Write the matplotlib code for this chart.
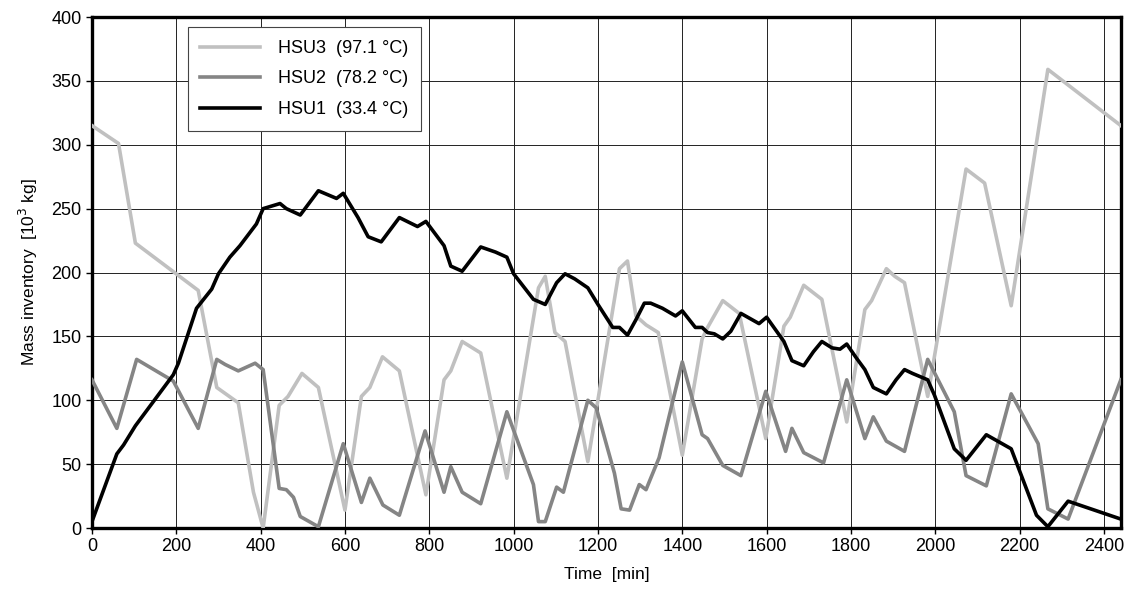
import numpy as np
import matplotlib
matplotlib.use('Agg')
import matplotlib.pyplot as plt

plt.rcParams['font.family'] = ['Liberation Sans', 'DejaVu Sans']

# HSU3 (97.1 °C) - light gray
t_hsu3 = [0, 63, 103, 252, 296, 347, 383, 406, 444, 465, 498, 537, 600, 639, 659,
          689, 729, 792, 835, 851, 878, 922, 984, 1059, 1075, 1098, 1122, 1176,
          1251, 1270, 1290, 1314, 1343, 1400, 1447, 1460, 1496, 1535, 1598, 1641,
          1656, 1688, 1731, 1790, 1833, 1849, 1884, 1904, 1927, 1982, 2073, 2117,
          2180, 2267, 2440]
m_hsu3 = [315, 301, 223, 186, 110, 98, 28, 0, 96, 103, 121, 110, 14, 103, 110,
          134, 123, 26, 116, 123, 146, 137, 39, 188, 197, 153, 146, 52,
          203, 209, 166, 159, 153, 57, 148, 157, 178, 168, 70, 158,
          165, 190, 179, 83, 171, 178, 203, 197, 192, 103, 281, 270,
          174, 359, 315]

# HSU2 (78.2 °C) - medium gray
t_hsu2 = [0, 59, 106, 193, 252, 296, 316, 347, 387, 406, 444, 461, 478, 494, 537,
          596, 639, 659, 690, 729, 790, 835, 851, 878, 922, 984, 1047, 1059, 1075,
          1102, 1118, 1176, 1196, 1239, 1255, 1275, 1298, 1314, 1345, 1400, 1447,
          1460, 1496, 1539, 1598, 1645, 1660, 1688, 1735, 1790, 1833, 1853, 1884,
          1927, 1982, 2045, 2073, 2121, 2180, 2244, 2267, 2315, 2440]
m_hsu2 = [116, 78, 132, 115, 78, 132, 128, 123, 129, 124, 31, 30, 24, 9, 1,
          66, 20, 39, 18, 10, 76, 28, 48, 28, 19, 91, 34, 5, 5,
          32, 28, 100, 94, 43, 15, 14, 34, 30, 55, 130, 73,
          70, 49, 41, 107, 60, 78, 59, 51, 116, 70, 87, 68,
          60, 132, 91, 41, 33, 105, 66, 15, 7, 116]

# HSU1 (33.4 °C) - black
t_hsu1 = [0, 59, 75, 103, 193, 205, 248, 284, 300, 327, 351, 390, 406, 446, 461,
          494, 537, 580, 596, 631, 655, 686, 729, 772, 792, 835, 851, 878, 922,
          957, 984, 1000, 1047, 1075, 1102, 1122, 1145, 1176, 1200, 1235, 1251,
          1270, 1290, 1310, 1325, 1353, 1384, 1400, 1431, 1447, 1460, 1476, 1496,
          1515, 1539, 1582, 1600, 1641, 1660, 1688, 1711, 1731, 1755, 1774, 1790,
          1813, 1833, 1853, 1884, 1907, 1927, 1946, 1982, 1998, 2045, 2073, 2121,
          2180, 2240, 2267, 2315, 2440]
m_hsu1 = [5, 58, 65, 80, 120, 129, 172, 187, 199, 212, 221, 238, 250, 254, 250,
          245, 264, 258, 262, 243, 228, 224, 243, 236, 240, 221, 205, 201, 220,
          216, 212, 199, 179, 175, 192, 199, 195, 188, 175, 157, 157,
          151, 163, 176, 176, 172, 166, 170, 157, 157, 153, 152, 148,
          154, 168, 160, 165, 146, 131, 127, 138, 146, 141, 140, 144,
          133, 124, 110, 105, 116, 124, 121, 116, 104, 62, 53, 73,
          62, 10, 1, 21, 7]

labels = ['HSU3  (97.1 °C)', 'HSU2  (78.2 °C)', 'HSU1  (33.4 °C)']
colors = ['#c0c0c0', '#858585', '#000000']

fig = plt.figure(figsize=(11.31, 5.93), dpi=100)
ax = fig.add_axes([0.0813, 0.1096, 0.9097, 0.8617])

lw = 2.6
ax.plot(t_hsu3, m_hsu3, color=colors[0], lw=lw, label=labels[0], zorder=3)
ax.plot(t_hsu2, m_hsu2, color=colors[1], lw=lw, label=labels[1], zorder=4)
ax.plot(t_hsu1, m_hsu1, color=colors[2], lw=lw, label=labels[2], zorder=5)

ax.set_xlim(0, 2440)
ax.set_ylim(0, 400)
ax.set_xticks(np.arange(0, 2401, 200))
ax.set_yticks(np.arange(0, 401, 50))
ax.grid(True, color='#222222', linewidth=0.7)
ax.set_axisbelow(True)

for s in ax.spines.values():
    s.set_linewidth(2.4)
ax.tick_params(axis='both', direction='out', length=4, width=1, labelsize=13)

ax.set_xlabel('Time  [min]', fontsize=12.5, labelpad=8)
ax.set_ylabel('Mass inventory  [10$^3$ kg]', fontsize=12.5, labelpad=8)

leg = ax.legend(loc='upper left', bbox_to_anchor=(0.093, 0.98), borderaxespad=0,
                fontsize=13, handlelength=3.3, handletextpad=1.0,
                labelspacing=0.75, fancybox=False, framealpha=1,
                edgecolor='#444444', borderpad=0.7)
leg.get_frame().set_linewidth(0.8)

plt.savefig('out.png', dpi=100)
